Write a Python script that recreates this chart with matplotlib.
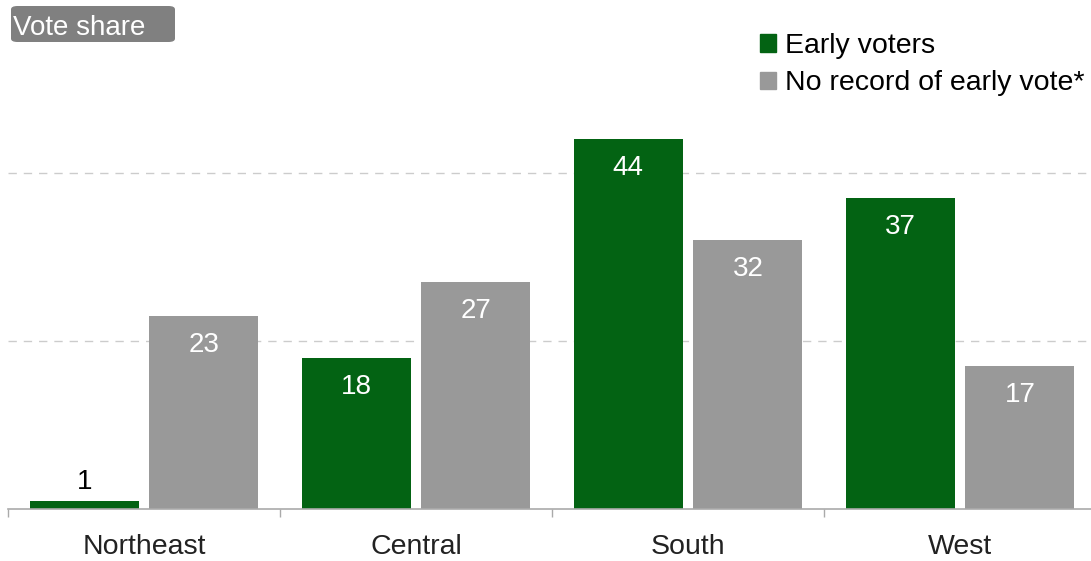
import numpy as np
import matplotlib.pyplot as plt
from matplotlib.patches import FancyBboxPatch, Patch

plt.rcParams['font.family'] = ['Liberation Sans', 'DejaVu Sans']

# Data
regions = ['Northeast', 'Central', 'South', 'West']
early_voters = [1, 18, 44, 37]
no_record = [23, 27, 32, 17]

green = '#036313'
gray = '#999999'

W, H = 1091, 561
fig = plt.figure(figsize=(W / 100, H / 100), dpi=100)
ax = fig.add_axes([8 / W, (H - 509) / H, 1088 / W, 504.6 / H])

x = np.arange(len(regions))
off, width = 0.22, 0.4
b1 = ax.bar(x - off, early_voters, width, color=green)
b2 = ax.bar(x + off, no_record, width, color=gray)

# value labels
for bars in (b1, b2):
    for rect in bars:
        v = rect.get_height()
        cx = rect.get_x() + rect.get_width() / 2
        if v < 5:
            ax.annotate(f'{v:g}', (cx, v), xytext=(0, 4), textcoords='offset points',
                        ha='center', va='bottom', fontsize=20, color='black')
        else:
            ax.annotate(f'{v:g}', (cx, v), xytext=(0, -21), textcoords='offset points',
                        ha='center', va='center', fontsize=20, color='white')

ax.set_xlim(-0.5, 3.5)
ax.set_ylim(0, 60)
ax.set_yticks([20, 40])
ax.yaxis.grid(True, color='#cccccc', linestyle=(0, (6, 5)), linewidth=1)
ax.set_axisbelow(True)
ax.tick_params(axis='y', left=False, labelleft=False)

ax.set_xticks(x)
ax.set_xticklabels(regions, fontsize=20.5, color='#222222')
ax.tick_params(axis='x', which='major', length=0, pad=18)
ax.set_xticks(np.arange(-0.5, 4.0, 1.0), minor=True)
ax.tick_params(axis='x', which='minor', length=6, width=1, color='#aaaaaa', direction='out')

for s in ['top', 'right', 'left']:
    ax.spines[s].set_visible(False)
ax.spines['bottom'].set_color('#aaaaaa')
ax.spines['bottom'].set_linewidth(1.2)

# "Vote share" tag
box = FancyBboxPatch((11 / W, 1 - 42 / H), 164 / W, 36 / H,
                     boxstyle='round,pad=0,rounding_size=0.006',
                     transform=fig.transFigure, facecolor='#808080', edgecolor='none')
fig.patches.append(box)
fig.text(13 / W, 1 - 28 / H, 'Vote share', color='white', fontsize=20,
         ha='left', va='center')

# legend
handles = [Patch(color=green, label='Early voters'),
           Patch(color=gray, label='No record of early vote*')]
fig.legend(handles=handles, loc='upper left', bbox_to_anchor=(760 / W, 1 - 33 / H),
           frameon=False, fontsize=20.5, handlelength=0.56, handleheight=0.56,
           handletextpad=0.32, labelspacing=0.4, borderaxespad=0, borderpad=0)

fig.savefig('out.png', dpi=100)
